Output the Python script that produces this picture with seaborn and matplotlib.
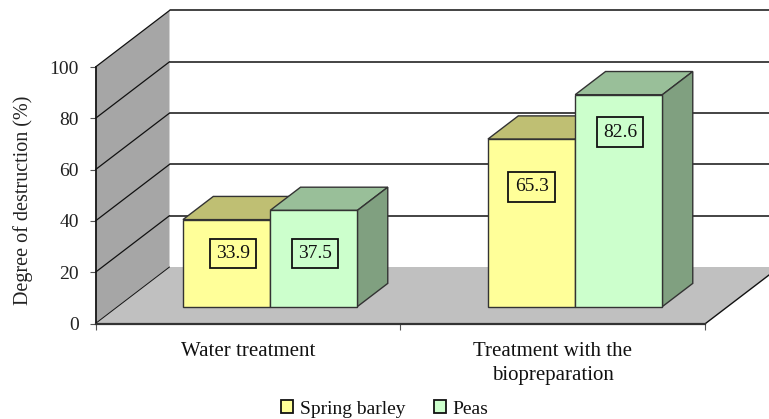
import matplotlib
matplotlib.use("Agg")
import matplotlib.pyplot as plt
import pandas as pd
import seaborn as sns
from matplotlib.patches import Polygon

# --- DADOS ---
treatments = ["Water treatment", "Treatment with the\nbiopreparation"]
crops = ["Spring barley", "Peas"]
barley_values = [33.9, 65.3]
peas_values = [37.5, 82.6]
y_ticks = [0, 20, 40, 60, 80, 100]

# --- ESTILO ---
front_colors = {"Spring barley": "#FFFF99", "Peas": "#CCFFCC"}
top_colors = {"Spring barley": "#BFBF73", "Peas": "#99BF99"}
side_colors = {"Spring barley": "#808050", "Peas": "#80A080"}
label_nudges = [[(6.4, 9.6), (0, 36)], [(1.5, 5), (1, 68.5)]]  # pixels, por serie

W, H = 769, 419
LEFT, RIGHT, BOTTOM, TOP = 95.5, 705.5, 323.5, 67
WALL_DX = 74 / (RIGHT - LEFT) * 2        # profundidade total em unidades de x
WALL_DY = 56.5 / (BOTTOM - TOP) * 100    # profundidade total em unidades de y
BAR_START = 0.30
BAR_DEPTH = 0.41

sns.set_theme(style="ticks")
plt.rcParams["font.family"] = ["Liberation Serif", "DejaVu Serif"]


def proj(x, y, d):
    """Projecao obliqua: d=0 plano da frente, d=1 parede do fundo."""
    return (x + d * WALL_DX, y + d * WALL_DY)


df = pd.DataFrame({
    "treatment": treatments * 2,
    "crop": [crops[0]] * 2 + [crops[1]] * 2,
    "value": barley_values + peas_values,
})

fig = plt.figure(figsize=(W / 100, H / 100), dpi=100)
ax = fig.add_axes([LEFT / W, 1 - BOTTOM / H, (RIGHT - LEFT) / W, (BOTTOM - TOP) / H])
ax.patch.set_visible(False)

sns.barplot(data=df, x="treatment", y="value", hue="crop", palette=front_colors,
            width=0.572, gap=0, saturation=1, edgecolor="#333333", linewidth=1,
            ax=ax, zorder=5)
ax.set_xlim(-0.5, 1.5)
ax.set_ylim(0, 100)

# paredes e chao
ax.add_patch(Polygon([proj(-0.5, 0, 0), proj(-0.5, 100, 0), proj(-0.5, 100, 1), proj(-0.5, 0, 1)],
                     facecolor="#A6A6A6", edgecolor="none", clip_on=False, zorder=1))
ax.add_patch(Polygon([proj(-0.5, 0, 0), proj(1.5, 0, 0), proj(1.5, 0, 1), proj(-0.5, 0, 1)],
                     facecolor="#C0C0C0", edgecolor="none", clip_on=False, zorder=1))
for tick in y_ticks:
    xs, ys = zip(proj(-0.5, tick, 0), proj(-0.5, tick, 1))
    ax.plot(xs, ys, color="#111111", lw=0.9 if tick else 0.7, clip_on=False, zorder=2)
    if tick:
        xs, ys = zip(proj(-0.5, tick, 1), proj(1.5, tick, 1))
        ax.plot(xs, ys, color="#111111", lw=1.1, clip_on=False, zorder=2)
xs, ys = zip(proj(1.5, 0, 0), proj(1.5, 0, 1))
ax.plot(xs, ys, color="#111111", lw=1, clip_on=False, zorder=2)

# barras 3D a partir das barras do seaborn
for s, container in enumerate(ax.containers):
    crop = crops[s]
    for c, bar in enumerate(container):
        x0 = bar.get_x() + BAR_START * WALL_DX
        base = BAR_START * WALL_DY
        w, h = bar.get_width(), bar.get_height()
        bar.set_x(x0)
        bar.set_y(base)
        bar.set_clip_on(False)
        bar.set_zorder(5 + 2 * s)
        top = [(x0, base + h), (x0 + w, base + h),
               proj(x0 + w, base + h, BAR_DEPTH), proj(x0, base + h, BAR_DEPTH)]
        side = [(x0 + w, base), (x0 + w, base + h),
                proj(x0 + w, base + h, BAR_DEPTH), proj(x0 + w, base, BAR_DEPTH)]
        ax.add_patch(Polygon(top, facecolor=top_colors[crop], edgecolor="#333333", lw=1,
                             clip_on=False, zorder=4 + 2 * s))
        ax.add_patch(Polygon(side, facecolor=side_colors[crop], edgecolor="#333333", lw=1,
                             clip_on=False, zorder=4 + 2 * s))
        nudge = label_nudges[s][c]
        ax.annotate(f"{h:.1f}", (x0 + w / 2, base + h / 2), xytext=nudge,
                    textcoords="offset pixels", ha="center", va="center",
                    fontsize=14, color="#111111", zorder=10,
                    bbox=dict(boxstyle="square,pad=0.32", facecolor=front_colors[crop],
                              edgecolor="#111111", lw=1.3))

# eixos
sns.despine(ax=ax, top=True, right=True)
ax.spines["left"].set_color("#111111")
ax.spines["bottom"].set_color("#333333")
ax.spines["bottom"].set_linewidth(1.6)
ax.spines["bottom"].set_zorder(3)
ax.spines["left"].set_zorder(3)
ax.set_yticks(y_ticks)
ax.tick_params(axis="y", labelsize=14, length=4, width=0.8, color="#555555",
               labelcolor="#222222", pad=8)
ax.set_xticks([-0.5, 0.5, 1.5])
ax.set_xticklabels([])
ax.set_xticks([0, 1], labels=treatments, minor=True)
ax.tick_params(axis="x", which="major", length=4, width=0.8, color="#555555")
ax.tick_params(axis="x", which="minor", length=0, labelsize=15, pad=13, labelcolor="#111111")
for label in ax.get_xticklabels(minor=True):
    label.set_linespacing(1.42)
ax.set_xlabel("")
ax.set_ylabel("")
fig.text(23 / W, 1 - 200 / H, "Degree of destruction (%)", rotation=90, ha="center",
         va="center", fontsize=14.5, color="#222222")

handles, labels = ax.get_legend_handles_labels()
for handle in handles:
    handle.set_edgecolor("#111111")
    handle.set_linewidth(1.3)
ax.legend(handles, labels, loc="center", bbox_to_anchor=(385 / W, 1 - 409 / H),
          bbox_transform=fig.transFigure, ncol=2, frameon=False, fontsize=14,
          handlelength=0.6, handleheight=0.6, handletextpad=0.35, columnspacing=1.5,
          borderpad=0, labelcolor="#111111")

fig.savefig("out.png", dpi=100)
